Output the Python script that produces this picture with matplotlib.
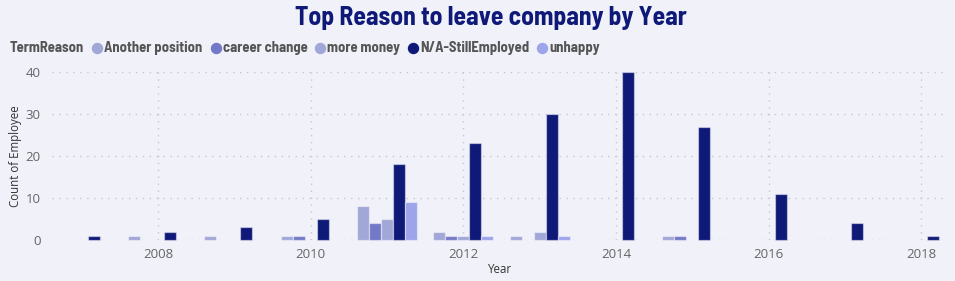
import numpy as np
import matplotlib
matplotlib.use("Agg")
import matplotlib.pyplot as plt
from matplotlib.lines import Line2D

years = [2007, 2008, 2009, 2010, 2011, 2012, 2013, 2014, 2015, 2016, 2017, 2018]
reasons = ["Another position", "career change", "more money", "N/A-StillEmployed", "unhappy"]
another_position = [0, 1, 1, 1, 8, 2, 1, 0, 1, 0, 0, 0]
career_change = [0, 0, 0, 1, 4, 1, 0, 0, 1, 0, 0, 0]
more_money = [0, 0, 0, 0, 5, 1, 2, 0, 0, 0, 0, 0]
still_employed = [1, 2, 3, 5, 18, 23, 30, 40, 27, 11, 4, 1]
unhappy = [0, 0, 0, 0, 9, 1, 1, 0, 0, 0, 0, 0]
series = [another_position, career_change, more_money, still_employed, unhappy]
colors = ["#A1A7D7", "#7379C7", "#A1A7D7", "#0F1A78", "#9CA4EA"]
year_ticks = [2008, 2010, 2012, 2014, 2016, 2018]

COND = ["Barlow Semi Condensed", "DejaVu Sans"]
SANS = ["Open Sans", "DejaVu Sans"]
BG = "#F0F1F9"
W, H = 955, 281
fig = plt.figure(figsize=(W / 100, H / 100), dpi=100, facecolor=BG)
ax = fig.add_axes([52 / W, (H - 240) / H, (948 - 52) / W, (240 - 72) / H], facecolor=BG)

slot = 0.157
x = np.array(years, dtype=float)
for i, (vals, c) in enumerate(zip(series, colors)):
    v = np.array(vals, dtype=float)
    m = v > 0
    ax.bar(x[m] + (i - 2) * slot, v[m], width=slot, color=c,
           edgecolor=(1, 1, 1, 0.45), linewidth=0.9, zorder=3, clip_on=False)

ax.set_xlim(2006.61, 2018.35)
ax.set_ylim(0, 40)
ax.set_yticks([0, 10, 20, 30, 40])
ax.set_xticks(year_ticks)
ax.set_xticklabels([str(y) for y in year_ticks])
ax.grid(True, color="#C8C8CC", linestyle=(0, (1, 4)), linewidth=1, zorder=0)
for s in ax.spines.values():
    s.set_visible(False)
ax.tick_params(length=0, labelsize=9.5, labelcolor="#666666", pad=6)
ax.tick_params(axis="y", pad=8)
for lab in ax.get_xticklabels() + ax.get_yticklabels():
    lab.set_family(SANS)
ax.set_ylabel("Count of Employee", fontsize=8.3, color="#333333", labelpad=3, family=SANS)
ax.set_xlabel("Year", fontsize=8.3, color="#333333", labelpad=1, family=SANS)

fig.text(491 / W, 1 - 18 / H, "Top Reason to leave company by Year", ha="center", va="center",
         fontsize=18.5, fontweight="bold", color="#0F1A78", family=COND)

# legend row
renderer = fig.canvas.get_renderer()
ly = 1 - 48 / H
px = 10
t = fig.text(px / W, ly, "TermReason", ha="left", va="center", fontsize=10.5,
             fontweight="bold", color="#555555", family=COND)
bb = t.get_window_extent(renderer)
px = bb.x1
for lab, c in zip(reasons, colors):
    fig.add_artist(Line2D([(px + 13) / W], [ly], marker="o", markersize=7.2, color=c,
                          linestyle="", transform=fig.transFigure))
    t = fig.text((px + 20) / W, ly, lab, ha="left", va="center", fontsize=10.5,
                 fontweight="bold", color="#555555", family=COND)
    bb = t.get_window_extent(renderer)
    px = bb.x1

fig.savefig("out.png", dpi=100, facecolor=BG)
